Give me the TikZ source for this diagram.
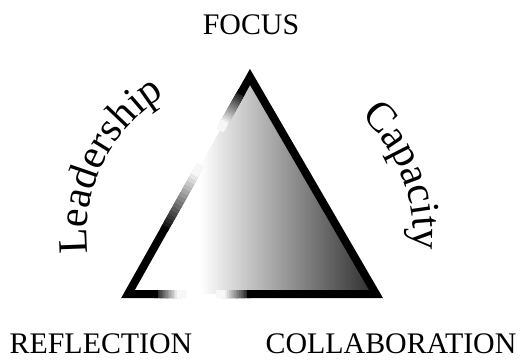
\documentclass[tikz,border=0pt]{standalone}
\usepackage{fontspec}
\setmainfont{Liberation Serif}
\usetikzlibrary{calc, decorations.text}

\newcommand\arcfont{\fontsize{42}{50}\selectfont}
% rim piece that fades from one shade of black to another
\newcommand\fadeedge[4]{%
  \foreach \k in {1,...,16}{
    \pgfmathsetmacro\shadeval{#3+(#4-#3)*(\k-0.5)/16}
    \draw[rim, line cap=rect, draw=black!\shadeval]
      ($(#1)!{(\k-1)/16}!(#2)$) -- ($(#1)!{\k/16}!(#2)$);
  }}

\begin{document}
\begin{tikzpicture}[x=1bp, y=1bp,
  tag/.style={font=\fontsize{30}{36}\selectfont, inner sep=0pt},
  rim/.style={line width=8bp}]

  \useasboundingbox (0,0) rectangle (524,359);

  \coordinate (apex) at (250,282);
  \coordinate (bl)   at (128,65);
  \coordinate (br)   at (376,65);
  \coordinate (ctr)  at (250,124);

  \coordinate (l1) at ($(bl)!0.31!(apex)$);
  \coordinate (l2) at ($(bl)!0.58!(apex)$);
  \coordinate (l3) at ($(bl)!0.77!(apex)$);
  \coordinate (l4) at ($(bl)!0.92!(apex)$);
  \coordinate (b1) at ($(bl)!0.12!(br)$);
  \coordinate (b2) at ($(bl)!0.22!(br)$);
  \coordinate (b3) at ($(bl)!0.37!(br)$);
  \coordinate (b4) at ($(bl)!0.48!(br)$);

  % shaded body
  \begin{scope}
    \clip (apex) -- (bl) -- (br) -- cycle;
    \shade[left color=white, middle color=black!45, right color=black!85]
      (200,60) rectangle (380,290);
  \end{scope}

  % outline with its light gaps
  \fadeedge{l1}{l2}{100}{0}
  \fadeedge{l4}{l3}{100}{0}
  \fadeedge{b1}{b2}{100}{0}
  \fadeedge{b4}{b3}{100}{0}
  \draw[rim, line join=miter] (l4) -- (apex) -- (br) -- (b4);
  \draw[rim, line join=miter] (l1) -- (bl) -- (b1);

  % words round the triangle
  \path[decorate, decoration={text along path, text align=center,
      text={|\arcfont|Leadership}}]
    ($(ctr)+(200:163)$) arc[start angle=200, end angle=108, radius=163];
  \path[decorate, decoration={text along path, text align=center,
      text={|\arcfont|Capacity}}]
    ($(ctr)+(67:163)$) arc[start angle=67, end angle=-25, radius=163];

  \node[tag, anchor=base] (focus) at (251,325) {FOCUS};
  \node[tag, anchor=base] (refl)  at (101,6)   {REFLECTION};
  \node[tag, anchor=base] (collab) at (391,6)  {COLLABORATION};
\end{tikzpicture}
\end{document}
